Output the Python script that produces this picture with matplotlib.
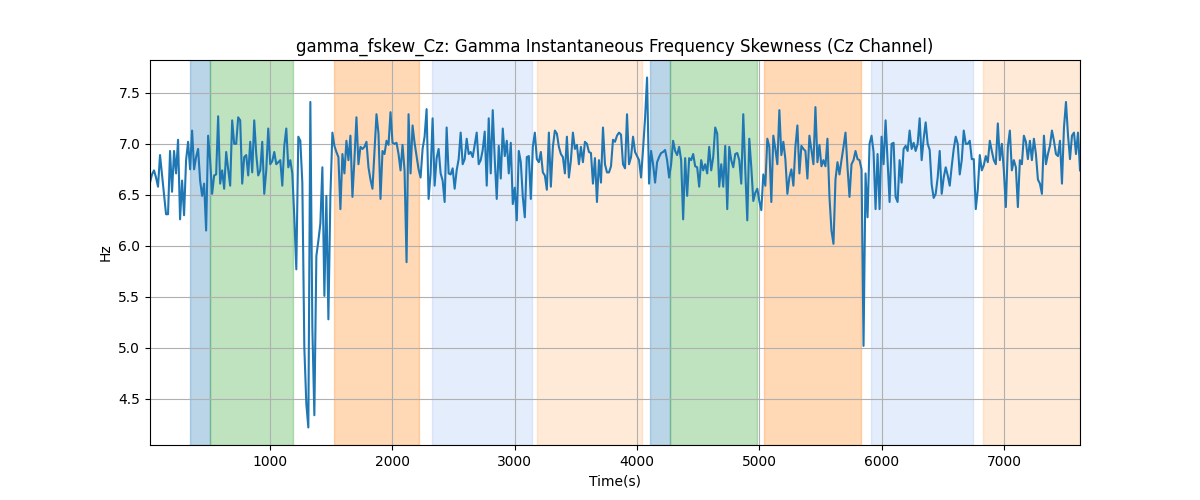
import numpy as np
import matplotlib
matplotlib.use('Agg')
import matplotlib.pyplot as plt

seg1 = [6.62, 6.70, 6.74, 6.67, 6.58, 6.89, 6.70, 6.51, 6.31, 6.31,
        6.93, 6.53, 6.93, 6.71, 7.04, 6.26, 6.64, 6.30, 6.84, 7.02,
        6.75, 7.13, 6.75, 6.87, 6.95, 6.64, 6.49, 6.61, 6.15, 7.08,
        6.84, 6.51, 6.69, 6.70, 7.27, 6.61, 6.74, 6.56, 6.92, 6.75,
        6.59, 7.23, 7.00, 7.00, 7.26, 7.23, 6.61, 6.87, 6.89, 6.69,
        7.02, 6.72, 7.23, 6.90, 6.69, 6.74, 7.02, 6.51, 6.74, 7.15]
seg2 = [6.80, 6.83, 6.92, 6.80, 6.82, 6.84, 6.59, 6.98, 7.15, 6.77,
        6.84, 6.71, 6.28, 5.77, 7.07, 7.03, 6.62, 5.00, 4.45, 4.22,
        7.41, 5.20, 4.34, 5.90, 6.05, 6.22, 6.77, 5.51, 6.49, 5.28,
        6.49, 7.11, 6.98, 6.92, 6.87, 6.36, 6.90, 6.71, 7.03, 6.84,
        7.08, 6.48, 6.85, 7.26, 6.80, 6.97, 6.95, 6.97, 7.02, 6.77,
        6.65, 6.56, 6.93, 7.29, 7.10, 6.46, 6.93]
seg3 = [6.90, 7.03, 6.99, 7.31, 7.01, 7.00, 7.01, 6.90, 6.74, 6.99,
        6.74, 5.84, 7.29, 6.71, 7.18, 7.01, 6.88, 6.75, 6.67, 6.95,
        7.07, 7.34, 6.46, 6.71, 7.25, 6.59, 6.86, 6.95, 6.71, 6.64,
        6.43, 7.16, 6.71, 6.70, 6.76, 6.56, 6.74, 6.85, 7.11, 6.80,
        6.85, 7.05, 6.90, 6.92, 6.87, 6.99, 7.11, 6.80, 6.84, 6.94,
        7.12, 6.59, 7.25, 6.71, 7.33, 6.85, 6.46, 6.98]
seg4 = [6.66, 7.15, 6.88, 7.03, 6.71, 7.01, 6.41, 6.57, 6.25, 6.93,
        6.82, 6.48, 6.28, 6.87, 6.88, 6.46, 6.97, 7.11, 6.85, 6.82,
        6.92, 6.72, 6.69, 6.55, 7.11, 6.58, 6.97, 7.13, 7.10, 6.97,
        6.90, 6.87, 6.71, 7.07, 6.67, 6.84, 7.11, 6.95, 6.99, 6.80,
        6.97, 6.82, 7.02, 7.00, 6.92, 6.91, 6.61, 6.86, 6.43, 6.84,
        6.62, 7.16, 6.80, 6.72, 6.72, 6.78, 7.04, 7.02]
seg5 = [7.08, 7.11, 7.09, 6.80, 6.76, 7.29, 6.80, 6.87, 7.07, 6.92,
        6.88, 6.84, 6.67, 6.95, 7.25, 7.65, 6.61, 6.93, 6.80, 6.62,
        6.82, 6.87, 6.91, 6.92, 6.94, 6.84, 6.67, 6.80, 7.03, 6.93,
        6.89, 6.97, 6.84, 6.26, 6.86, 6.49, 6.86, 6.84, 6.90, 6.78,
        6.77, 6.58, 6.84, 6.74, 6.80, 6.71, 6.97, 6.74, 6.87, 7.16,
        7.10, 6.58, 6.80, 6.58, 6.98, 6.36, 6.97]
seg6 = [6.84, 6.77, 6.90, 6.91, 6.84, 6.61, 7.29, 6.74, 6.25, 7.05,
        6.77, 6.44, 6.52, 6.56, 6.44, 6.35, 6.70, 6.59, 7.05, 6.97,
        6.43, 7.08, 6.95, 6.80, 7.33, 6.89, 7.02, 6.85, 6.51, 6.67,
        6.75, 6.59, 6.97, 7.18, 6.71, 6.98, 6.95, 6.93, 6.66, 7.08,
        6.94, 6.80, 7.36, 6.82, 6.99, 6.78, 6.84, 6.78, 7.05, 6.48,
        6.15, 6.02, 6.65, 6.82, 6.70, 6.84, 6.97, 7.11]
seg7 = [6.77, 6.48, 6.80, 6.84, 6.93, 6.85, 6.84, 6.75, 5.02, 6.71,
        6.28, 7.00, 7.08, 6.92, 6.36, 6.90, 6.36, 7.07, 6.80, 7.23,
        6.84, 6.43, 7.00, 7.01, 6.48, 6.43, 6.84, 6.62, 6.95, 6.98,
        6.93, 7.13, 6.95, 7.01, 6.93, 7.00, 7.25, 6.84, 7.05, 7.21,
        7.00, 6.94, 6.60, 6.47, 6.51, 6.67, 6.93, 6.51, 6.67, 6.77,
        6.69, 6.59, 6.78, 6.95, 7.07, 7.00, 6.70]
seg8 = [6.84, 7.13, 7.00, 7.00, 7.03, 6.85, 6.85, 6.36, 6.55, 6.89,
        6.74, 6.79, 6.88, 6.82, 7.03, 6.93, 6.84, 6.80, 7.20, 6.84,
        7.00, 6.74, 6.38, 6.97, 7.13, 6.74, 6.84, 6.77, 6.38, 6.84,
        6.80, 7.08, 7.02, 6.85, 7.03, 6.84, 7.05, 6.90, 6.65, 6.61,
        6.51, 7.08, 6.80, 6.90, 6.98, 7.13, 7.03, 6.90, 6.88, 7.03,
        6.61, 7.16, 7.41, 7.09, 6.85, 7.08, 7.11, 6.90, 7.11, 6.74]

fskew = np.array(seg1 + seg2 + seg3 + seg4 + seg5 + seg6 + seg7 + seg8)
t_start, t_end = 20, 7619
time = np.linspace(t_start, t_end, len(fskew))

# shaded intervals (start, end, color, alpha)
spans = [
    (346, 510, 'tab:blue', 0.3),
    (510, 1190, 'tab:green', 0.3),
    (1523, 2218, 'tab:orange', 0.3),
    (2321, 3138, 'cornflowerblue', 0.17),
    (3186, 4044, 'tab:orange', 0.16),
    (4105, 4269, 'tab:blue', 0.3),
    (4269, 4977, 'tab:green', 0.3),
    (5037, 5827, 'tab:orange', 0.3),
    (5911, 6742, 'cornflowerblue', 0.17),
    (6829, 7619, 'tab:orange', 0.16),
]

fig, ax = plt.subplots(figsize=(12, 5))
for s, e, c, a in spans:
    ax.axvspan(s, e, color=c, alpha=a)
ax.plot(time, fskew, color='tab:blue', linewidth=1.5)
ax.set_xlim(t_start, t_end)
ax.grid(True)
ax.set_title('gamma_fskew_Cz: Gamma Instantaneous Frequency Skewness (Cz Channel)')
ax.set_xlabel('Time(s)')
ax.set_ylabel('Hz')
fig.savefig('out.png', dpi=100)
